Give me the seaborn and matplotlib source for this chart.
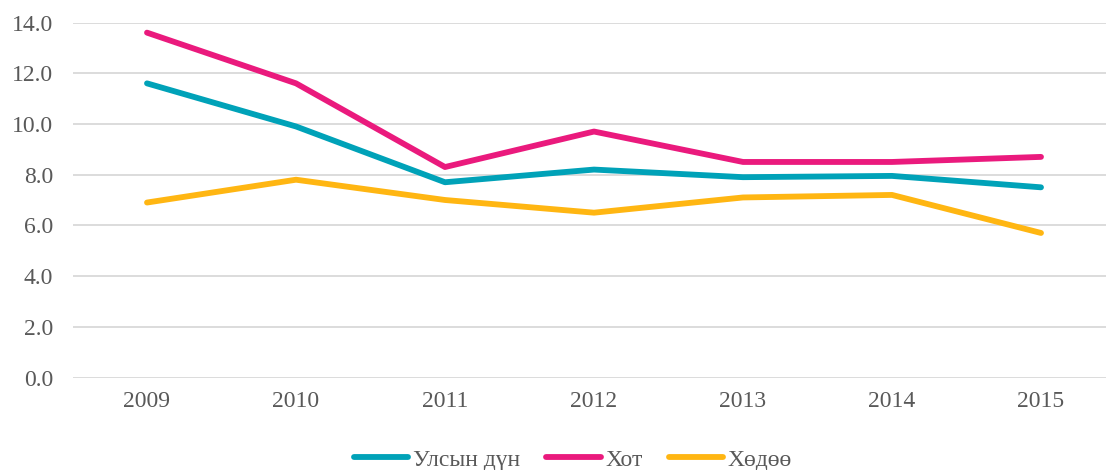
import matplotlib
matplotlib.use("Agg")
import matplotlib.pyplot as plt
import seaborn as sns
import pandas as pd

years = ["2009", "2010", "2011", "2012", "2013", "2014", "2015"]
series_names = ["Улсын дүн", "Хот", "Хөдөө"]
national = [11.6, 9.9, 7.7, 8.2, 7.9, 7.95, 7.5]
urban = [13.6, 11.6, 8.3, 9.7, 8.5, 8.5, 8.7]
rural = [6.9, 7.8, 7.0, 6.5, 7.1, 7.2, 5.7]
colors = ["#00A2B8", "#EA1A7D", "#FFB612"]

sns.set_style("white")
plt.rcParams["font.family"] = ["Liberation Serif", "DejaVu Serif"]

rows = []
for name, vals in zip(series_names, [national, urban, rural]):
    for i, (y, v) in enumerate(zip(years, vals)):
        rows.append({"idx": i, "year": y, "value": v, "series": name})
df = pd.DataFrame(rows)

fig = plt.figure(figsize=(11.06, 4.70), dpi=100)
ax = fig.add_axes([72.5 / 1106, 1 - 377.5 / 470, 1043 / 1106, 355 / 470])

sns.lineplot(data=df, x="idx", y="value", hue="series", hue_order=series_names,
             palette=colors, linewidth=4.2, ax=ax, sort=False,
             solid_capstyle="round", zorder=3)

ax.set_xlim(-0.5, 6.5)
ax.set_ylim(0, 14)
ticks = [0, 2, 4, 6, 8, 10, 12, 14]
ax.set_yticks(ticks)
ax.set_yticklabels([f"{v:.1f}" for v in ticks])
ax.set_xticks(range(len(years)))
ax.set_xticklabels(years)
ax.set_xlabel("")
ax.set_ylabel("")
ax.yaxis.grid(True, color="#D9D9D9", linewidth=1.3, zorder=0)
ax.xaxis.grid(False)
for s in ax.spines.values():
    s.set_visible(False)
ax.tick_params(axis="both", length=0, labelsize=17, colors="#595959")
ax.tick_params(axis="y", pad=14)
ax.tick_params(axis="x", pad=10)

handles, labels = ax.get_legend_handles_labels()
ax.legend_.remove()
for h in handles:
    h.set_solid_capstyle("round")
leg = fig.legend(handles, labels, loc="center", bbox_to_anchor=(573 / 1106, 1 - 460 / 470),
                 ncol=3, frameon=False, fontsize=17, handlelength=2.3,
                 handletextpad=0.2, columnspacing=1.1, borderaxespad=0)
for t in leg.get_texts():
    t.set_color("#595959")

fig.savefig("out.png", dpi=100)
